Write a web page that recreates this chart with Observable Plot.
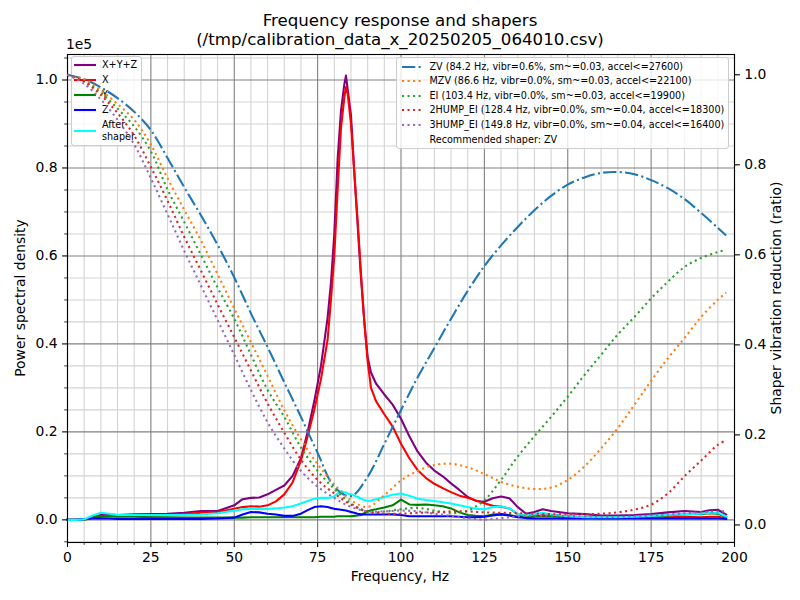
<!DOCTYPE html>
<html><head><meta charset="utf-8">
<script src="https://cdn.jsdelivr.net/npm/d3@7"></script>
<script src="https://cdn.jsdelivr.net/npm/@observablehq/plot@0.6"></script>
<style>
body{margin:0;background:#fff;}
#wrap{position:relative;width:800px;height:600px;font-family:"DejaVu Sans",sans-serif;color:#000;overflow:hidden;background:#fff}
.layer{position:absolute;left:0;top:0}
.t{position:absolute;white-space:nowrap;line-height:1;transform:translate(-50%,-50%)}
.leg{position:absolute;background:rgba(255,255,255,0.8);border:1px solid #cccccc;border-radius:3px;box-sizing:border-box}
.row{position:absolute;white-space:nowrap;font-size:9.64px;line-height:1;transform:translateY(-50%)}
.h{position:absolute}
</style></head>
<body><div id="wrap"></div>
<script>
// ---------- data (PSD in units of 1e5) ----------
const freq = [0, 2.5, 5, 7.5, 10, 12.5, 15, 20, 25, 30,
  35, 40, 45, 50, 52.5, 55, 57.5, 60, 62.5, 65,
  67.5, 70, 72, 74, 76, 78, 79, 80, 81, 82,
  83, 83.5, 84, 85, 86, 87, 88, 89, 90, 91,
  92.5, 95, 97.5, 100, 102.5, 105, 107.5, 110, 112.5, 115,
  117.5, 120, 122.5, 125, 127.5, 130, 132.5, 135, 137.5, 140,
  142.5, 145, 150, 155, 160, 165, 170, 175, 180, 185,
  190, 192.5, 195, 197.5];
const psdXYZ = [0, 0, 0.001, 0.006, 0.011, 0.012, 0.011, 0.0125, 0.013, 0.014,
  0.016, 0.02, 0.02, 0.033, 0.047, 0.05, 0.051, 0.058, 0.068, 0.078,
  0.10, 0.14, 0.20, 0.27, 0.35, 0.46, 0.54, 0.65, 0.82, 0.93,
  0.99, 1.01, 0.98, 0.92, 0.79, 0.67, 0.55, 0.45, 0.37, 0.335,
  0.31, 0.285, 0.262, 0.23, 0.19, 0.155, 0.13, 0.112, 0.099, 0.083,
  0.068, 0.052, 0.043, 0.041, 0.049, 0.053, 0.049, 0.029, 0.014, 0.018,
  0.024, 0.02, 0.015, 0.013, 0.01, 0.01, 0.011, 0.013, 0.017, 0.02,
  0.018, 0.022, 0.023, 0.012];
const psdX = [0, 0, 0, 0.004, 0.007, 0.008, 0.008, 0.009, 0.01, 0.011,
  0.013, 0.016, 0.018, 0.025, 0.029, 0.031, 0.03, 0.033, 0.042, 0.058,
  0.085, 0.135, 0.19, 0.25, 0.32, 0.41, 0.50, 0.60, 0.75, 0.89,
  0.96, 0.984, 0.97, 0.90, 0.79, 0.68, 0.56, 0.45, 0.36, 0.30,
  0.27, 0.24, 0.212, 0.173, 0.14, 0.113, 0.095, 0.082, 0.072, 0.063,
  0.055, 0.05, 0.044, 0.038, 0.032, 0.03, 0.026, 0.013, 0.008, 0.008,
  0.009, 0.008, 0.006, 0.005, 0.004, 0.004, 0.005, 0.005, 0.006, 0.007,
  0.006, 0.007, 0.007, 0.004];
const psdY = [0, 0, 0.001, 0.005, 0.008, 0.008, 0.007, 0.007, 0.006, 0.006,
  0.005, 0.005, 0.005, 0.005, 0.005, 0.006, 0.006, 0.006, 0.006, 0.006,
  0.006, 0.006, 0.006, 0.006, 0.007, 0.007, 0.007, 0.007, 0.008, 0.008,
  0.008, 0.008, 0.008, 0.008, 0.009, 0.01, 0.011, 0.015, 0.019, 0.022,
  0.024, 0.028, 0.033, 0.046, 0.035, 0.034, 0.035, 0.033, 0.031, 0.026,
  0.017, 0.011, 0.009, 0.008, 0.012, 0.013, 0.011, 0.007, 0.006, 0.008,
  0.01, 0.009, 0.008, 0.006, 0.005, 0.005, 0.006, 0.008, 0.01, 0.013,
  0.013, 0.015, 0.014, 0.007];
const psdZ = [0, 0, 0.002, 0.003, 0.003, 0.003, 0.002, 0.002, 0.002, 0.002,
  0.002, 0.002, 0.003, 0.005, 0.012, 0.018, 0.017, 0.014, 0.012, 0.009,
  0.009, 0.014, 0.022, 0.029, 0.031, 0.029, 0.027, 0.025, 0.024, 0.023,
  0.022, 0.021, 0.02, 0.018, 0.016, 0.014, 0.0125, 0.012, 0.012, 0.012,
  0.012, 0.012, 0.0125, 0.011, 0.008, 0.008, 0.008, 0.008, 0.008, 0.008,
  0.007, 0.006, 0.006, 0.007, 0.01, 0.0125, 0.01, 0.006, 0.004, 0.003,
  0.003, 0.003, 0.003, 0.003, 0.003, 0.003, 0.003, 0.003, 0.003, 0.003,
  0.003, 0.003, 0.003, 0.002];
const psdAfter = [0, 0, 0.001, 0.01, 0.016, 0.014, 0.011, 0.011, 0.011, 0.011,
  0.011, 0.012, 0.015, 0.021, 0.024, 0.025, 0.025, 0.025, 0.026, 0.028,
  0.031, 0.037, 0.043, 0.048, 0.05, 0.05, 0.051, 0.053, 0.06, 0.065,
  0.063, 0.062, 0.06, 0.058, 0.055, 0.052, 0.048, 0.045, 0.043, 0.044,
  0.047, 0.052, 0.057, 0.06, 0.055, 0.048, 0.045, 0.043, 0.04, 0.037,
  0.033, 0.029, 0.025, 0.024, 0.029, 0.031, 0.026, 0.014, 0.01, 0.013,
  0.016, 0.012, 0.008, 0.006, 0.006, 0.006, 0.007, 0.009, 0.011, 0.013,
  0.014, 0.016, 0.016, 0.008];

// ---------- shaper vibration reduction ratios ----------
const shaperFreq = [0, 5, 10, 15, 20, 25, 30, 35, 40, 45,
  50, 55, 60, 65, 70, 75, 80, 85, 90, 95,
  100, 105, 110, 115, 120, 125, 130, 135, 140, 145,
  150, 155, 160, 165, 170, 175, 180, 185, 190, 195,
  197.5];
const zv = [1.0, 0.99, 0.972, 0.948, 0.918, 0.877, 0.815, 0.75, 0.688, 0.622,
  0.55, 0.47, 0.395, 0.317, 0.24, 0.16, 0.085, 0.064, 0.107, 0.18,
  0.255, 0.328, 0.393, 0.458, 0.52, 0.575, 0.621, 0.662, 0.699, 0.731,
  0.756, 0.772, 0.782, 0.784, 0.779, 0.766, 0.748, 0.724, 0.693, 0.66,
  0.643];
const mzv = [1.0, 0.99, 0.965, 0.935, 0.9, 0.845, 0.77, 0.70, 0.632, 0.557,
  0.481, 0.406, 0.331, 0.255, 0.19, 0.135, 0.09, 0.055, 0.04, 0.066,
  0.099, 0.12, 0.133, 0.136, 0.128, 0.113, 0.096, 0.085, 0.08, 0.083,
  0.1, 0.13, 0.17, 0.215, 0.267, 0.32, 0.37, 0.415, 0.462, 0.5,
  0.516];
const ei = [1.0, 0.985, 0.96, 0.925, 0.885, 0.83, 0.745, 0.673, 0.6, 0.527,
  0.458, 0.378, 0.30, 0.24, 0.172, 0.12, 0.08, 0.048, 0.029, 0.03,
  0.035, 0.038, 0.032, 0.026, 0.032, 0.055, 0.1, 0.152, 0.197, 0.24,
  0.285, 0.333, 0.378, 0.423, 0.462, 0.503, 0.54, 0.573, 0.593, 0.606,
  0.611];
const hump2 = [1.0, 0.985, 0.955, 0.915, 0.865, 0.795, 0.72, 0.64, 0.565, 0.49,
  0.417, 0.343, 0.27, 0.205, 0.145, 0.10, 0.07, 0.045, 0.03, 0.025,
  0.025, 0.027, 0.028, 0.03, 0.03, 0.028, 0.027, 0.026, 0.025, 0.024,
  0.024, 0.024, 0.025, 0.028, 0.034, 0.045, 0.07, 0.108, 0.143, 0.178,
  0.188];
const hump3 = [1.0, 0.98, 0.945, 0.9, 0.845, 0.77, 0.69, 0.609, 0.532, 0.455,
  0.378, 0.30, 0.228, 0.17, 0.12, 0.085, 0.06, 0.04, 0.03, 0.03,
  0.032, 0.03, 0.025, 0.02, 0.015, 0.012, 0.015, 0.019, 0.021, 0.021,
  0.02, 0.019, 0.018, 0.018, 0.019, 0.021, 0.023, 0.026, 0.028, 0.03,
  0.03];

// ---------- ticks & labels ----------
const xMajor = [0, 25, 50, 75, 100, 125, 150, 175, 200];
const xMinor = [5,10,15,20,30,35,40,45,55,60,65,70,80,85,90,95,105,110,115,120,130,135,140,145,155,160,165,170,180,185,190,195];
const yMajor = [0, 0.2, 0.4, 0.6, 0.8, 1.0];
const yMinor = [-0.05,0.05,0.1,0.15,0.25,0.3,0.35,0.45,0.5,0.55,0.65,0.7,0.75,0.85,0.9,0.95,1.05];
const y2Major = [0, 0.2, 0.4, 0.6, 0.8, 1.0];

const psdSeries = [
  {name: "X+Y+Z", values: psdXYZ, color: "#800080"},
  {name: "X", values: psdX, color: "#ff0000"},
  {name: "Y", values: psdY, color: "#008000"},
  {name: "Z", values: psdZ, color: "#0000ff"},
  {name: "After\nshaper", values: psdAfter, color: "#00ffff"}
];
const shaperSeries = [
  {name: "ZV (84.2 Hz, vibr=0.6%, sm~=0.03, accel<=27600)", values: zv, color: "#1f77b4", dash: "13.3,3.3,2.08,3.3"},
  {name: "MZV (86.6 Hz, vibr=0.0%, sm~=0.03, accel<=22100)", values: mzv, color: "#ff7f0e", dash: "2.08,3.44"},
  {name: "EI (103.4 Hz, vibr=0.0%, sm~=0.03, accel<=19900)", values: ei, color: "#2ca02c", dash: "2.08,3.44"},
  {name: "2HUMP_EI (128.4 Hz, vibr=0.0%, sm~=0.04, accel<=18300)", values: hump2, color: "#d62728", dash: "2.08,3.44"},
  {name: "3HUMP_EI (149.8 Hz, vibr=0.0%, sm~=0.04, accel<=16400)", values: hump3, color: "#9467bd", dash: "2.08,3.44"}
];
const recommended = "Recommended shaper: ZV";

// ---------- layout ----------
const wrap = document.getElementById("wrap");
const common = {
  width: 800, height: 600,
  marginLeft: 67, marginRight: 66, marginTop: 54, marginBottom: 58,
  style: {fontFamily: '"DejaVu Sans", sans-serif', fontSize: "13.9px", background: "transparent", color: "#000", overflow: "visible"}
};

const p1 = Plot.plot({
  ...common,
  x: {domain: [0, 200], label: null},
  y: {domain: [-0.0515, 1.058], label: null},
  marks: [
    Plot.gridX(xMinor, {stroke: "#d3d3d3", strokeOpacity: 1, strokeWidth: 1.1}),
    Plot.gridY(yMinor, {stroke: "#d3d3d3", strokeOpacity: 1, strokeWidth: 1.1}),
    Plot.gridX(xMajor, {stroke: "#808080", strokeOpacity: 1, strokeWidth: 1.1}),
    Plot.gridY(yMajor, {stroke: "#808080", strokeOpacity: 1, strokeWidth: 1.1}),
    ...psdSeries.map(s => Plot.line(freq.map((f, i) => ({f, v: s.values[i]})),
      {x: "f", y: "v", stroke: s.color, strokeWidth: 2.08, strokeLinejoin: "round", strokeLinecap: "square"})),
    Plot.frame({stroke: "#000", strokeWidth: 1.1}),
    Plot.axisX(xMajor, {tickSize: 4.9, tickPadding: 4.9, tickFormat: d => String(d), strokeWidth: 1.1}),
    Plot.axisX(xMinor, {tickSize: 2.8, tickFormat: () => "", strokeWidth: 0.8}),
    Plot.axisY(yMajor, {tickSize: 4.9, tickPadding: 4.9, tickFormat: d3.format(".1f"), strokeWidth: 1.1}),
    Plot.axisY(yMinor, {tickSize: 2.8, tickFormat: () => "", strokeWidth: 0.8})
  ]
});
p1.classList.add("layer"); p1.style.zIndex = 1;
wrap.appendChild(p1);

const p2 = Plot.plot({
  ...common,
  x: {domain: [0, 200], label: null, axis: null},
  y: {domain: [-0.039, 1.045], label: null},
  marks: [
    ...shaperSeries.map(s => Plot.line(shaperFreq.map((f, i) => ({f, r: s.values[i]})),
      {x: "f", y: "r", stroke: s.color, strokeWidth: 2.08, strokeDasharray: s.dash, strokeLinecap: "butt", curve: "catmull-rom"})),
    Plot.axisY(y2Major, {anchor: "right", tickSize: 4.9, tickPadding: 4.9, tickFormat: d3.format(".1f"), strokeWidth: 1.1})
  ]
});
p2.classList.add("layer"); p2.style.zIndex = 3;
wrap.appendChild(p2);

// ---------- text ----------
function text(str, x, y, size, extra) {
  const d = document.createElement("div");
  d.className = "t";
  d.textContent = str;
  d.style.left = x + "px"; d.style.top = y + "px"; d.style.fontSize = size + "px";
  d.style.zIndex = 5;
  if (extra) d.style.transform = extra;
  wrap.appendChild(d);
}
text("Frequency response and shapers", 400, 21, 16.67);
text("(/tmp/calibration_data_x_20250205_064010.csv)", 400, 40, 16.67);
text("Frequency, Hz", 400, 577, 13.9);
text("Power spectral density", 21, 298, 13.9, "translate(-50%,-50%) rotate(-90deg)");
text("Shaper vibration reduction (ratio)", 777, 298, 13.9, "translate(-50%,-50%) rotate(-90deg)");
text("1e5", 79, 45, 13.9);

// ---------- legends ----------
function handle(color, dash, cap) {
  const ns = "http://www.w3.org/2000/svg";
  const s = document.createElementNS(ns, "svg");
  s.setAttribute("width", 22); s.setAttribute("height", 6);
  const l = document.createElementNS(ns, "line");
  l.setAttribute("x1", 1); l.setAttribute("x2", 21); l.setAttribute("y1", 3); l.setAttribute("y2", 3);
  l.setAttribute("stroke", color); l.setAttribute("stroke-width", 2.08);
  if (dash) l.setAttribute("stroke-dasharray", dash);
  l.setAttribute("stroke-linecap", cap || "butt");
  s.appendChild(l);
  return s;
}
function legend(box, rows, z) {
  const b = document.createElement("div");
  b.className = "leg";
  Object.assign(b.style, {left: box[0] + "px", top: box[1] + "px", width: box[2] + "px", height: box[3] + "px", zIndex: z});
  wrap.appendChild(b);
  rows.forEach(r => {
    if (r.color) {
      const h = handle(r.color, r.dash, r.cap);
      h.classList.add("h");
      h.style.left = (r.hx - box[0] - 1) + "px"; h.style.top = (r.y - box[1] - 4) + "px";
      b.appendChild(h);
    }
    const t = document.createElement("div");
    t.className = "row";
    t.style.left = (r.tx - box[0] - 1) + "px"; t.style.top = (r.ty - box[1] - 1) + "px";
    t.innerHTML = r.label;
    if (r.lh) t.style.lineHeight = r.lh;
    b.appendChild(t);
  });
}
const leftRows = psdSeries.map((s, i) => {
  const y = i < 4 ? 65 + i * 15 : 131;
  return {color: s.color, hx: 73.5, y, tx: 102, ty: y, label: s.name.replace("\n", "<br>"), lh: i < 4 ? null : "1.2", cap: "square"};
});
legend([71, 56, 71, 90], leftRows, 2);
const rightRows = shaperSeries.map((s, i) => ({color: s.color, dash: s.dash, hx: 401, y: 67 + i * 14.4, tx: 429.5, ty: 67 + i * 14.4, label: s.name.replace(/</g, "&lt;")}));
rightRows.push({hx: 401, y: 139.5, tx: 429.5, ty: 139.5, label: recommended});
legend([396, 57, 333, 92], rightRows, 4);
</script>
</body></html>
